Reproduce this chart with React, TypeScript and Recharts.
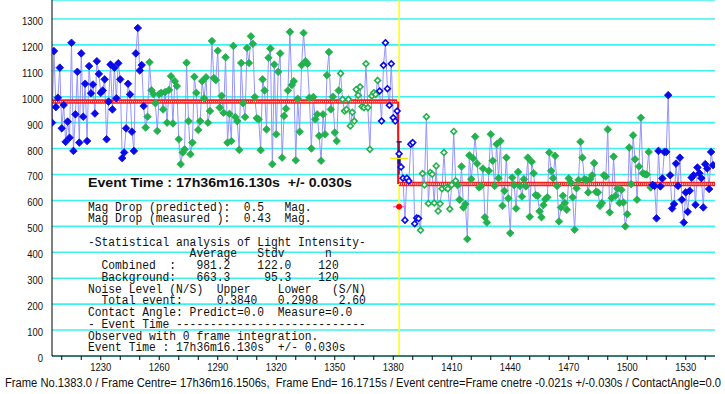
import React from 'react';
import { LineChart, Line, XAxis, YAxis, CartesianGrid, ReferenceLine, ReferenceDot } from 'recharts';

// light intensity per frame, starting at firstFrame (one value per frame)
const firstFrame = 1205;
const lastFrame = 1545;
const intensity = [
  900, 1176, 960, 996, 1112, 878, 968, 826, 904, 842,
  1208, 791, 932, 1096, 823, 1167, 923, 1050, 829, 1118,
  1013, 1047, 935, 1137, 1088, 1015, 1024, 1067, 836, 981,
  1124, 951, 1112, 994, 1129, 1067, 763, 785, 878, 1050,
  1009, 865, 791, 1167, 1265, 1101, 1122, 964, 881, 923,
  1133, 1025, 1010, 975, 868, 1010, 1015, 951, 1018, 900,
  1026, 1079, 897, 1060, 1041, 836, 740, 785, 797, 1131,
  906, 778, 823, 1077, 1015, 872, 906, 1060, 994, 1075,
  900, 945, 1215, 1072, 1064, 1177, 958, 1004, 938, 1152,
  823, 934, 829, 1196, 922, 906, 795, 1130, 975, 922,
  1188, 1130, 1233, 1204, 999, 917, 913, 794, 1067, 1024,
  874, 1150, 1186, 740, 1124, 855, 1096, 1167, 765, 926,
  954, 1024, 1250, 1045, 1060, 755, 992, 865, 1122, 1246,
  1137, 1127, 996, 800, 999, 913, 932, 849, 753, 932,
  855, 1083, 1172, 951, 1000, 862, 829, 1024, 1090, 990,
  945, 951, 990, 887, 940, 906, 1028, 1006, 1038, 962,
  958, 1127, 958, 797, 1003, 1015, 1009, 1063, 1022, 906,
  1121, 1208, 1031, 967, 1127, 919, 906, 945, 780, 729,
  686, 524, 686, 675, 817, 823, 510, 532, 530, 485,
  704, 660, 923, 588, 708, 701, 590, 733, 559, 587,
  645, 785, 650, 645, 567, 660, 866, 676, 659, 603,
  731, 573, 586, 451, 774, 682, 762, 846, 742, 650,
  656, 723, 535, 515, 714, 855, 753, 656, 817, 686,
  829, 579, 637, 765, 608, 474, 688, 659, 569, 710,
  656, 615, 682, 654, 765, 537, 749, 705, 621, 618,
  558, 535, 582, 605, 612, 785, 714, 686, 772, 656,
  519, 573, 618, 590, 564, 685, 669, 612, 487, 647,
  679, 826, 765, 682, 679, 631, 682, 697, 744, 633,
  631, 579, 590, 697, 692, 874, 554, 609, 769, 618,
  646, 590, 641, 592, 500, 547, 804, 663, 851, 759,
  603, 731, 919, 705, 701, 700, 787, 650, 660, 656,
  531, 791, 654, 685, 787, 787, 1006, 697, 569, 586,
  742, 656, 765, 603, 515, 631, 556, 637, 688, 697,
  583, 727, 705, 686, 573, 740, 723, 644, 787, 736,
];

// which kind of frame each run of points belongs to
const groupStarts = [1205, 1253, 1353, 1373, 1394, 1413, 1513];
const groupKinds = ['outer', 'inner', 'innerOpen', 'edgeOpen', 'innerOpen', 'inner', 'outer'];

const eventFrame = 1383;
const levelCombined = 981.2;
const levelBackground = 663.3;

const yTicks = [0, 100, 200, 300, 400, 500, 600, 700, 800, 900, 1000, 1100, 1200, 1300];
const xTicks = [1210, 1220, 1230, 1240, 1250, 1260, 1270, 1280, 1290, 1300, 1310, 1320, 1330, 1340,
  1350, 1360, 1370, 1380, 1390, 1400, 1410, 1420, 1430, 1440, 1450, 1460, 1470, 1480, 1490, 1500,
  1510, 1520, 1530, 1540];
const xLabels = [1230, 1260, 1290, 1320, 1350, 1380, 1410, 1440, 1470, 1500, 1530];

const statLines = [
  'Mag Drop (predicted):  0.5   Mag.',
  'Mag Drop (measured ):  0.43  Mag.',
  '-Statistical analysis of Light Intensity-',
  '               Average   Stdv      n',
  '  Combined  :   981.2    122.0    120',
  '  Background:   663.3     95.3    120',
  'Noise Level (N/S)  Upper    Lower   (S/N)',
  '  Total event:     0.3840   0.2998   2.60',
  'Contact Angle: Predict=0.0  Measure=0.0',
  '- Event Time ----------------------------',
  'Observed with 0 frame integration.',
  'Event Time : 17h36m16.130s  +/- 0.030s',
];
const statBaselines = [210.7, 222, 245.7, 257.4, 269, 280.7, 293, 304, 315.7, 328, 339.7, 350.7];
const headline = 'Event Time : 17h36m16.130s  +/- 0.030s';
const caption = 'Frame No.1383.0 / Frame Centre= 17h36m16.1506s,  Frame End= 16.1715s / Event centre=Frame cnetre -0.021s +/-0.030s / ContactAngle=0.0';

const kindStyle: Record<string, { color: string; open: boolean }> = {
  outer: { color: '#0a0ae8', open: false },
  inner: { color: '#22b14c', open: false },
  innerOpen: { color: '#22b14c', open: true },
  edgeOpen: { color: '#0a0ae8', open: true },
};

const kindOf = (frame: number) => {
  let k = groupKinds[0];
  groupStarts.forEach((s, i) => {
    if (frame >= s) k = groupKinds[i];
  });
  return k;
};

const rows: any[] = [];
for (let f = firstFrame; f <= lastFrame; f++) {
  const i = f - firstFrame;
  rows.push({
    frame: f,
    v: i < intensity.length ? intensity[i] : null,
    lvlA: f < eventFrame ? levelCombined : null,
    lvlB: f >= eventFrame ? levelBackground : null,
  });
}

const diamond = (cx: number, cy: number, r: number) =>
  `M${cx},${cy - r} L${cx + r},${cy} L${cx},${cy + r} L${cx - r},${cy} Z`;

const Marker = (props: any) => {
  const { cx, cy, payload, index } = props;
  if (cx == null || cy == null || payload.v == null) return <g key={`m${index}`} />;
  const st = kindStyle[kindOf(payload.frame)];
  if (st.open) {
    return <path key={`m${index}`} d={diamond(cx, cy, 2.9)} fill="#fff" stroke={st.color} strokeWidth={1.6} />;
  }
  return <path key={`m${index}`} d={diamond(cx, cy, 3.8)} fill={st.color} stroke={st.color} strokeWidth={0.8} strokeLinejoin="round" />;
};

const YTick = (props: any) => {
  const { x, y, payload } = props;
  const s = String(payload.value);
  return (
    <text x={x} y={y + 2} dy={4} textAnchor="end" fontSize={11} fontFamily="'Liberation Sans', Arial"
      fill="#111" textLength={s.length * 5.25} lengthAdjust="spacingAndGlyphs">{s}</text>
  );
};

const XTick = (props: any) => {
  const { x, y, payload } = props;
  if (!xLabels.includes(payload.value)) return <g />;
  const s = String(payload.value);
  return (
    <text x={x - 10.5} y={y + 9} fontSize={11} fontFamily="'Liberation Sans', Arial"
      fill="#111" textLength={21} lengthAdjust="spacingAndGlyphs">{s}</text>
  );
};

export default function App() {
  return (
    <div style={{ position: 'absolute', left: 0, top: 0, width: 725, height: 394, background: '#fff' }}>
      <LineChart width={725} height={394} data={rows} margin={{ top: 0, right: 10, bottom: 0, left: 0 }}>
        <CartesianGrid vertical={false} stroke="#3ff0f0" strokeWidth={1.6} />
        <XAxis dataKey="frame" type="number" domain={[firstFrame, lastFrame]} ticks={xTicks} interval={0}
          height={38} tickSize={4} tickMargin={2} stroke="#000" tick={<XTick />} allowDataOverflow />
        <YAxis type="number" domain={[0, 1373]} ticks={yTicks} width={52} tickLine={false} interval={0}
          tickSize={6} tickMargin={3} stroke="#000" tick={<YTick />} allowDataOverflow />
        <ReferenceLine x={eventFrame} stroke="#ffff00" strokeWidth={1.5} />
        <Line dataKey="v" stroke="#9595ff" strokeWidth={1} dot={(p: any) => <Marker {...p} key={`m${p.index}`} />}
          activeDot={false} isAnimationActive={false} connectNulls={false} />
        <Line dataKey="lvlA" stroke="#ff1a1a" strokeWidth={4.5} dot={false} activeDot={false} isAnimationActive={false} />
        <Line dataKey="lvlB" stroke="#ff1a1a" strokeWidth={4.5} dot={false} activeDot={false} isAnimationActive={false} />
        <Line dataKey="lvlA" stroke="#fff" strokeWidth={1.3} strokeDasharray="1 0.95" dot={false} activeDot={false} isAnimationActive={false} />
        <Line dataKey="lvlB" stroke="#fff" strokeWidth={1.3} strokeDasharray="1 0.95" dot={false} activeDot={false} isAnimationActive={false} />
        <ReferenceLine segment={[{ x: 1382.5, y: levelCombined }, { x: 1382.5, y: levelBackground }]} stroke="#ff1010" strokeWidth={2} />
        <ReferenceLine segment={[{ x: 1383, y: 826 }, { x: 1383, y: 700 }]} stroke="#1a1a7a" strokeWidth={1.2} />
        <ReferenceLine segment={[{ x: 1381.7, y: 826 }, { x: 1384.3, y: 826 }]} stroke="#1a1a7a" strokeWidth={1.5} />
        <ReferenceLine segment={[{ x: 1383, y: 775 }, { x: 1383, y: 740 }]} stroke="#1a1a7a" strokeWidth={3} />
        <ReferenceLine segment={[{ x: 1378.5, y: 762 }, { x: 1387.5, y: 762 }]} stroke="#f2e600" strokeWidth={1.5} />
        <ReferenceLine segment={[{ x: 1380, y: 576 }, { x: 1386, y: 576 }]} stroke="#ff66cc" strokeWidth={1.5} />
        <ReferenceDot x={eventFrame} y={576} r={2.5} fill="#ff0000" stroke="#ff0000" />
      </LineChart>
      <svg width={725} height={394} style={{ position: 'absolute', left: 0, top: 0, pointerEvents: 'none' }}>
        <text x={88} y={187} fontSize={12.5} fontWeight="bold" fontFamily="'Liberation Sans', Arial" fill="#111"
          textLength={264} lengthAdjust="spacingAndGlyphs" style={{ whiteSpace: 'pre' }}>{headline}</text>
        <g transform="translate(88 0) scale(0.837 1)">
          {statLines.map((t, i) => (
            <text key={i} x={0} y={statBaselines[i]} fontSize={13.5} fontFamily="'Liberation Mono', 'DejaVu Sans Mono', monospace"
              fill="#111" style={{ whiteSpace: 'pre' }}>{t}</text>
          ))}
        </g>
        <text x={5} y={387} fontSize={12.5} fontFamily="'Liberation Sans', Arial" fill="#111"
          textLength={716} lengthAdjust="spacingAndGlyphs" style={{ whiteSpace: 'pre' }}>{caption}</text>
      </svg>
    </div>
  );
}
